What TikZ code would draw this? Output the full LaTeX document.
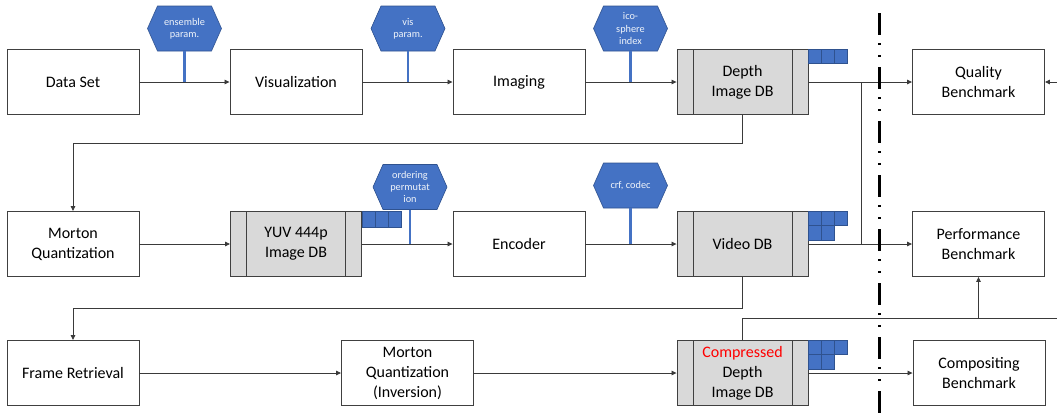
\documentclass[tikz,border=0pt]{standalone}
\usepackage{fontspec}
\setmainfont{Carlito}
\usetikzlibrary{arrows.meta}
\definecolor{hexblue}{HTML}{4472C4}
\definecolor{hexedge}{HTML}{2F528F}
\definecolor{dbgray}{HTML}{D9D9D9}
\definecolor{edgegray}{HTML}{404040}
\definecolor{linegray}{HTML}{3A3A3A}
\newcommand\mainfs{\fontsize{16}{20}\selectfont}
\newcommand\hexfs{\fontsize{10.3}{12.3}\selectfont}
% hexagon around a coordinate: width 74, height 45, points 10 deep
\newcommand\hexshape[1]{\filldraw[hexbg] ([xshift=-37pt]#1) -- ++(10,-22.5) -- ++(54,0)
  -- ++(10,22.5) -- ++(-10,22.5) -- ++(-54,0) -- cycle;}
\tikzset{
  box/.style={draw=edgegray, line width=0.9pt, fill=white, minimum width=132pt,
    minimum height=65pt, align=center, font=\mainfs, inner sep=1pt},
  db/.style={box, fill=dbgray, minimum width=131pt,
    path picture={
      \draw[edgegray, line width=0.9pt]
        ([xshift=16pt]path picture bounding box.north west) --
        ([xshift=16pt]path picture bounding box.south west);
      \draw[edgegray, line width=0.9pt]
        ([xshift=-16pt]path picture bounding box.north east) --
        ([xshift=-16pt]path picture bounding box.south east);}},
  hexbg/.style={draw=hexedge, line width=0.6pt, fill=hexblue},
  hexa/.style={text=white!92!hexblue, font=\hexfs, align=center,
    minimum height=45pt, minimum width=54pt, inner sep=0pt},
  stem/.style={draw=hexblue, line width=2.5pt},
  conn/.style={draw=linegray, line width=0.8pt},
  arr/.style={conn, -{Triangle[length=5pt,width=4.5pt]}},
  sq/.style={draw=hexedge, fill=hexblue, line width=0.5pt},
  sepline/.style={line width=3pt, dash pattern=on 22pt off 8pt on 2pt off 10pt on 2pt off 10pt}
}
\begin{document}
\begin{tikzpicture}[x=1pt,y=-1pt]
\useasboundingbox (0,0) rectangle (1057,416);
% row 1
\node[box] (ds) at (73,82) {Data Set};
\node[box] (vis) at (296,82) {Visualization};
\node[box] (img) at (519,82) {Imaging};
\node[db] (ddb) at (742.5,82) {Depth\\Image DB};
\node[box] (qb) at (978.5,82) {Quality\\Benchmark};
% row 2
\node[box] (mq) at (73,244) {Morton\\Quantization};
\node[db] (yuv) at (296,244) {YUV 444p\\Image DB};
\node[box] (enc) at (519,244) {Encoder};
\node[db] (vdb) at (742.5,244) {Video DB};
\node[box] (pb) at (978.5,244) {Performance\\Benchmark};
% row 3
\node[box] (fr) at (73,373) {Frame Retrieval};
\node[box] (mqi) at (407.5,373) {Morton\\Quantization\\(Inversion)};
\node[db] (cdb) at (742.5,373) {\textcolor{red}{Compressed}\\Depth\\Image DB};
\node[box] (cb) at (979,373) {Compositing\\Benchmark};
% hexagons
\coordinate (h1c) at (184.5,28.5);
\coordinate (h2c) at (408,28.5);
\coordinate (h3c) at (630.5,28.5);
\coordinate (h4c) at (410,187);
\coordinate (h5c) at (630.5,185.5);
\foreach \c in {h1c,h2c,h3c,h4c,h5c} {\hexshape{\c}}
\node[hexa] (h1) at (h1c) {ensemble\\param.};
\node[hexa] (h2) at (h2c) {vis\\param.};
\node[hexa] (h3) at (h3c) {ico-\\sphere\\index};
\node[hexa] (h4) at (h4c) {ordering\\permutat\\ion};
\node[hexa] (h5) at (h5c) {crf, codec};
% blue cells
\foreach \i in {0,1,2} {
  \draw[sq] ([xshift=13*\i pt]ddb.north east) rectangle ++(13,14);
  \draw[sq] ([xshift=13*\i pt]yuv.north east) rectangle ++(13,16);
  \draw[sq] ([xshift=13*\i pt]vdb.north east) rectangle ++(13,14.5);
  \draw[sq] ([xshift=13*\i pt]cdb.north east) rectangle ++(13,14.5);
}
\foreach \i in {0,1} {
  \draw[sq] ([xshift=13*\i pt, yshift=-14.5pt]vdb.north east) rectangle ++(13,14.5);
  \draw[sq] ([xshift=13*\i pt, yshift=-14.5pt]cdb.north east) rectangle ++(13,14.5);
}
% connectors
\draw[arr] (ds.east) -- (vis.west);
\draw[arr] (vis.east) -- (img.west);
\draw[arr] (img.east) -- (ddb.west);
\draw[arr] (ddb.east) -- (qb.west);
\coordinate (rin) at (1057,82);
\draw[arr] (rin) -- (qb.east);
\coordinate (j1) at (861,82);
\draw[conn] (j1) -- (j1 |- pb.west);
\draw[arr] (ddb.south) -- ++(0,28) -| (mq.north);
\draw[arr] (mq.east) -- (yuv.west);
\draw[arr] (yuv.east) -- (enc.west);
\draw[arr] (enc.east) -- (vdb.west);
\draw[arr] (vdb.east) -- (pb.west);
\draw[arr] (vdb.south) -- ++(0,31) -| (fr.north);
\draw[arr] (fr.east) -- (mqi.west);
\draw[arr] (mqi.east) -- (cdb.west);
\draw[arr] (cdb.east) -- (cb.west);
\coordinate (rout) at (1057,318);
\draw[conn] (cdb.north) |- (rout);
\draw[arr] (pb.south |- rout) -- (pb.south);
% stems
\draw[stem] (h1.south) -- (h1.south |- ds.east);
\draw[stem] (h2.south) -- (h2.south |- vis.east);
\draw[stem] (h3.south) -- (h3.south |- img.east);
\draw[stem] (h4.south) -- (h4.south |- yuv.east);
\draw[stem] (h5.south) -- (h5.south |- enc.east);
% separator
\coordinate (septop) at (879,13);
\coordinate (sepbot) at (879,416);
\draw[sepline] (septop) -- (sepbot);
\end{tikzpicture}
\end{document}
